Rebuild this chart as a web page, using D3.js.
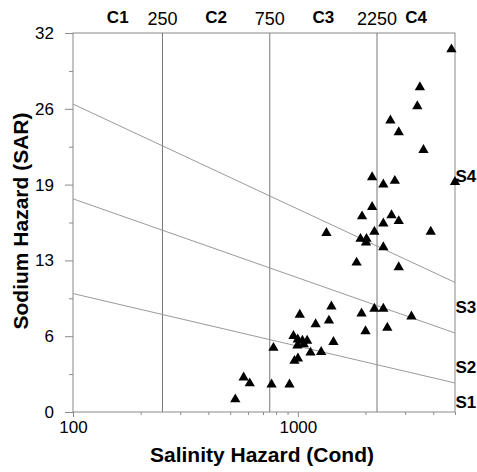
<!DOCTYPE html>
<html lang="en">
<head>
<meta charset="UTF-8">
<title>Salinity / Sodium Hazard</title>
<script src="https://cdn.jsdelivr.net/npm/d3@7"></script>
<style>
  body { margin: 0; background: #fff; }
  text { font-family: "Liberation Sans", Arial, sans-serif; fill: #000; }
</style>
</head>
<body>
<svg id="chart" width="477" height="472"></svg>
<script>
// Sample values: conductivity (x) and SAR (y)
const cond = [4820, 3490, 3400, 2580, 2810, 3620, 2140, 2400, 2700, 5000,
  2140, 1930, 2610, 2810, 2400, 1340, 3900, 2190, 1900, 2020,
  2010, 2400, 1825, 2810, 1410, 2190, 2400, 3200, 1920, 1375,
  2000, 2500, 1440, 1020, 1200, 956, 999, 1048, 1100, 996,
  1062, 779, 1138, 1270, 966, 1001, 574, 611, 764, 918, 527];
const sar = [30.7, 27.5, 25.9, 24.7, 23.7, 22.2, 19.9, 19.3, 19.6, 19.5,
  17.4, 16.6, 16.7, 16.2, 16.0, 15.2, 15.3, 15.3, 14.7, 14.7,
  14.4, 14.0, 12.7, 12.3, 9.0, 8.8, 8.8, 8.15, 8.4, 7.8,
  6.9, 7.2, 6.0, 8.3, 7.5, 6.5, 6.2, 6.1, 6.1, 5.7,
  5.8, 5.5, 5.1, 5.15, 4.4, 4.6, 3.0, 2.5, 2.4, 2.4, 1.15];

// Salinity classes
const classBounds = [250, 750, 2250];
const classLabels = ["C1", "C2", "C3", "C4"];

// Sodium class boundary lines: SAR at cond = 100 and at cond = 5000
const lineAt100 = [10.0, 18.0, 26.0];
const lineAt5000 = [2.45, 6.67, 10.94];
const sodiumLabels = ["S1", "S2", "S3", "S4"];

const yTickValues = d3.range(0, 32.01, 3.2);
const xMajor = [100, 1000];
const xMinor = [200, 300, 400, 500, 600, 700, 800, 900, 2000, 3000, 4000, 5000];

const W = 477, H = 472;
const m = { top: 33, right: 22, bottom: 60, left: 73 };

const svg = d3.select("#chart");
const x = d3.scaleLog().domain([100, 5000]).range([m.left, W - m.right]);
const y = d3.scaleLinear().domain([0, 32]).range([H - m.bottom, m.top]);

const gridColor = "#777", lineColor = "#9a9a9a", frameColor = "#8a8a8a";

// y axis
const yMaj = yTickValues.filter((d, i) => i % 2 === 0);
const yMin = yTickValues.filter((d, i) => i % 2 === 1);
const yAx = svg.append("g").attr("transform", `translate(${m.left},0)`)
  .call(d3.axisLeft(y).tickValues(yMaj).tickSize(8).tickPadding(11).tickFormat(d => Math.round(d)));
svg.append("g").attr("transform", `translate(${m.left},0)`)
  .call(d3.axisLeft(y).tickValues(yMin).tickSize(4).tickFormat(""));

// x axis
const xAx = svg.append("g").attr("transform", `translate(0,${H - m.bottom})`)
  .call(d3.axisBottom(x).tickValues(xMajor).tickSize(5).tickPadding(4).tickFormat(d3.format("d")));
svg.append("g").attr("transform", `translate(0,${H - m.bottom})`)
  .call(d3.axisBottom(x).tickValues(xMinor).tickSize(3).tickFormat(""));

svg.selectAll(".domain").remove();
svg.selectAll(".tick line").attr("stroke", frameColor);
svg.selectAll(".tick text").attr("font-size", 17).attr("font-family", "Liberation Sans, Arial, sans-serif").attr("fill", "#000");

// frame
svg.append("rect")
  .attr("x", m.left).attr("y", m.top)
  .attr("width", W - m.right - m.left).attr("height", H - m.bottom - m.top)
  .attr("fill", "none").attr("stroke", frameColor).attr("stroke-width", 1);

// class boundaries
svg.append("g").selectAll("line").data(classBounds).join("line")
  .attr("x1", d => x(d)).attr("x2", d => x(d))
  .attr("y1", y(32)).attr("y2", y(0))
  .attr("stroke", gridColor).attr("stroke-width", 1);

// sodium boundary lines
svg.append("g").selectAll("line").data(lineAt100).join("line")
  .attr("x1", x(100)).attr("y1", d => y(d))
  .attr("x2", x(5000)).attr("y2", (d, i) => y(lineAt5000[i]))
  .attr("stroke", lineColor).attr("stroke-width", 1);

// top labels
const edges = [100, ...classBounds, 5000];
svg.append("g").selectAll("text").data(classLabels).join("text")
  .attr("x", (d, i) => x(Math.sqrt(edges[i] * edges[i + 1])))
  .attr("y", 22.5)
  .attr("text-anchor", "middle").attr("font-size", 17).attr("font-weight", "bold")
  .text(d => d);
svg.append("g").selectAll("text").data(classBounds).join("text")
  .attr("x", d => x(d)).attr("y", 25)
  .attr("text-anchor", "middle").attr("font-size", 18)
  .text(d => d);

// sodium labels on right
const sLabelY = [0.87, 3.8, 8.9, 19.9];
svg.append("g").selectAll("text").data(sodiumLabels).join("text")
  .attr("x", x(5000) + 0.5).attr("y", (d, i) => y(sLabelY[i]))
  .attr("dy", "0.36em")
  .attr("font-size", 17).attr("font-weight", "bold")
  .text(d => d);

// points
svg.append("g").selectAll("path").data(cond).join("path")
  .attr("d", d3.symbol(d3.symbolTriangle, 46))
  .attr("transform", (d, i) => `translate(${x(d)},${y(sar[i]) + 1})`)
  .attr("fill", "#000");

// axis titles
svg.append("text")
  .attr("x", 262).attr("y", 462)
  .attr("text-anchor", "middle").attr("font-size", 21).attr("font-weight", "bold")
  .text("Salinity Hazard (Cond)");
svg.append("text")
  .attr("transform", `translate(28,221) rotate(-90)`)
  .attr("text-anchor", "middle").attr("font-size", 21).attr("font-weight", "bold")
  .text("Sodium Hazard (SAR)");
</script>
</body>
</html>
